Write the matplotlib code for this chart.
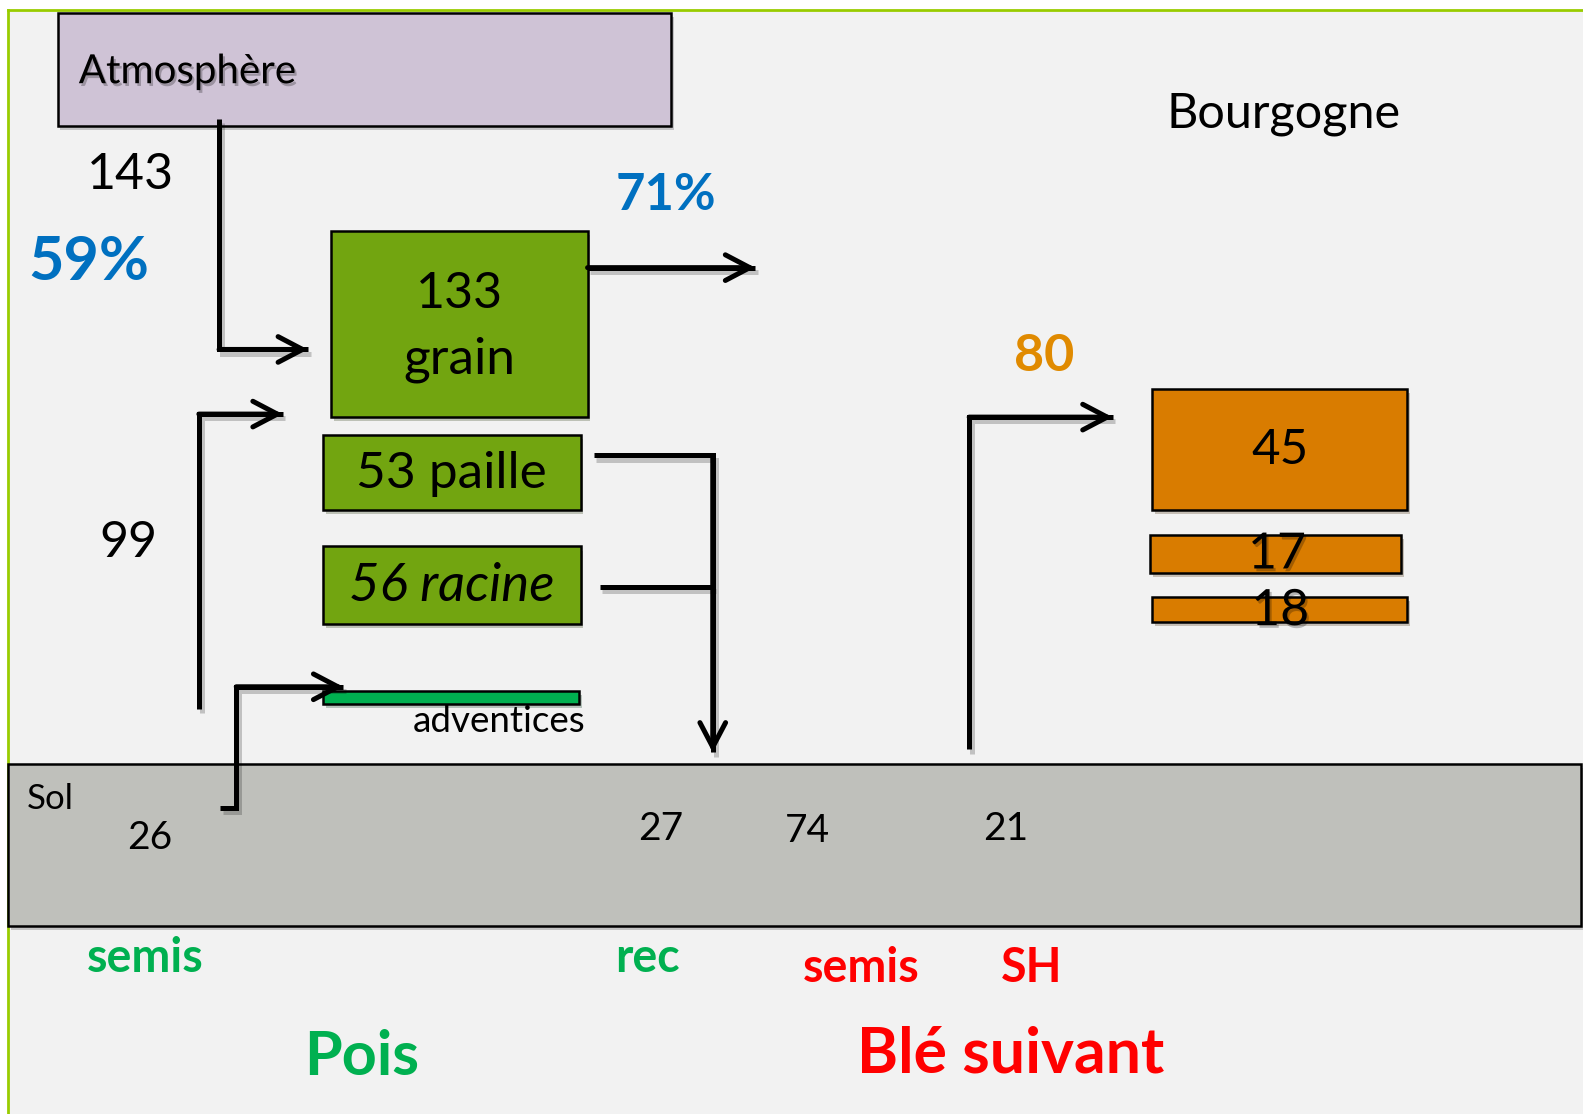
import matplotlib
matplotlib.use("Agg")
import matplotlib.pyplot as plt
from matplotlib.patches import Rectangle
import matplotlib.patheffects as pe

# ---- diagram content (kg N / ha) ----
site = "Bourgogne"
source_label = "Atmosphère"
fixation = "143"
fixation_pct = "59%"
export_pct = "71%"
soil_uptake = "99"
pea_parts = ["133", "grain", "53 paille", "56 racine"]
weeds_label = "adventices"
soil_label = "Sol"
soil_values = ["26", "27", "74", "21"]
wheat_total = "80"
wheat_parts = ["45", "17", "18"]
stage_labels = ["semis", "rec", "semis", "SH"]
crop_labels = ["Pois", "Blé suivant"]

BLUE = "#0070c0"
GREEN_TXT = "#00b050"
RED = "#ff0000"
ORANGE_TXT = "#e08a00"
ORANGE = "#d97c00"
GRAIN = "#72a510"
SOIL = "#bfc0bb"
ATMO = "#cfc3d6"

plt.rcParams['font.family'] = ['Lato', 'DejaVu Sans']

W, H = 1568, 1103
fig = plt.figure(figsize=(15.83, 11.14), dpi=100, facecolor="white")
ax = fig.add_axes([0, 0, 1, 1])
ax.set_xlim(0, W)
ax.set_ylim(H, 0)
ax.axis("off")

shadow = [pe.SimplePatchShadow(offset=(2, -3), alpha=0.25), pe.Normal()]
lshadow = [pe.SimpleLineShadow(offset=(2, -3), alpha=0.2), pe.Normal()]
tshadow = [pe.withSimplePatchShadow(offset=(1.5, -2), alpha=0.25)]

# slide background with green frame on top / left
ax.add_patch(Rectangle((8, 10), W - 8, H - 10, facecolor="#f2f2f2", edgecolor="none", zorder=0))
ax.plot([8, W], [10, 10], color="#99cc00", lw=2, zorder=1)
ax.plot([8, 8], [10, H], color="#99cc00", lw=2, zorder=1)


def box(x0, y0, x1, y1, color, lw=1.8):
    r = Rectangle((x0, y0), x1 - x0, y1 - y0, facecolor=color, edgecolor="black",
                  lw=lw, zorder=3)
    r.set_path_effects(shadow)
    ax.add_patch(r)


def elbow(pts, arrow=True):
    xs = [p[0] for p in pts]
    ys = [p[1] for p in pts]
    ax.plot(xs, ys, color="black", lw=3.6, solid_joinstyle="miter",
            solid_capstyle="butt", zorder=4, path_effects=lshadow)
    if arrow:
        ax.annotate("", xy=pts[-1], xytext=pts[-2],
                    arrowprops=dict(arrowstyle="->, head_length=0.8, head_width=0.42",
                                    lw=3.6, color="black", shrinkA=0, shrinkB=0,
                                    capstyle="round", joinstyle="miter",
                                    mutation_scale=22), zorder=5)


# atmosphere
box(57, 13, 665, 125, ATMO)
ax.text(78, 71, source_label, fontsize=29, va="center", ha="left", zorder=6,
        path_effects=tshadow)

# pea compartments
box(328, 229, 582, 413, GRAIN)
ax.text(455, 291, pea_parts[0], fontsize=36, ha="center", va="center", zorder=6)
ax.text(455, 356, pea_parts[1], fontsize=37, ha="center", va="center", zorder=6)
box(320, 431, 575, 505, GRAIN)
ax.text(447, 469, pea_parts[2], fontsize=37, ha="center", va="center", zorder=6)
box(320, 541, 575, 618, GRAIN)
ax.text(447, 580, pea_parts[3], fontsize=38, ha="center", va="center",
        style="italic", zorder=6)
box(320, 684, 574, 697, "#00b050")
ax.text(580, 714, weeds_label, fontsize=26.5, ha="right", va="center", zorder=6)

# soil
box(8, 756, 1566, 917, SOIL)
ax.text(27, 791, soil_label, fontsize=25, ha="left", va="center", zorder=6)
for txt, (x, y) in zip(soil_values, [(148, 830), (654, 821), (800, 823), (996, 821)]):
    ax.text(x, y, txt, fontsize=28, ha="center", va="center", zorder=6)

# wheat compartments
box(1141, 385, 1394, 505, ORANGE)
ax.text(1268, 446, wheat_parts[0], fontsize=35.5, ha="center", va="center", zorder=6)
box(1139, 530, 1388, 567, ORANGE)
ax.text(1265, 549, wheat_parts[1], fontsize=36, ha="center", va="center", zorder=6,
        path_effects=tshadow)
box(1141, 591, 1394, 616, ORANGE)
ax.text(1268, 605, wheat_parts[2], fontsize=36, ha="center", va="center", zorder=6,
        path_effects=tshadow)

# flows
elbow([(217, 118), (217, 346), (305, 346)])
elbow([(582, 265), (748, 265)])
elbow([(197, 702), (197, 410), (280, 410)])
elbow([(218, 800), (234, 800), (234, 680), (340, 680)])
elbow([(588, 451), (706, 451), (706, 745)])
elbow([(594, 581), (706, 581)], arrow=False)
elbow([(960, 742), (960, 413), (1102, 413)])

# numbers / percentages
ax.text(129, 173, fixation, fontsize=36, ha="center", va="center")
ax.text(88, 259, fixation_pct, fontsize=44, ha="center", va="center",
        color=BLUE, fontweight="bold")
ax.text(660, 194, export_pct, fontsize=36.5, ha="center", va="center",
        color=BLUE, fontweight="bold")
ax.text(127, 538, soil_uptake, fontsize=36, ha="center", va="center")
ax.text(1034, 353, wheat_total, fontsize=37.5, ha="center", va="center",
        color=ORANGE_TXT, fontweight="bold")
ax.text(1271, 113, site, fontsize=35, ha="center", va="center")

# stages and crops
for txt, (x, y), c in zip(stage_labels,
                          [(144, 949), (641, 949), (853, 958), (1022, 958)],
                          [GREEN_TXT, GREEN_TXT, RED, RED]):
    ax.text(x, y, txt, fontsize=33.5, ha="center", va="center", color=c, fontweight="bold")
ax.text(358, 1047, crop_labels[0], fontsize=44, ha="center", va="center",
        color=GREEN_TXT, fontweight="bold")
ax.text(1001, 1044, crop_labels[1], fontsize=45, ha="center", va="center",
        color=RED, fontweight="bold")

fig.savefig("out.png", dpi=100, facecolor="white")
